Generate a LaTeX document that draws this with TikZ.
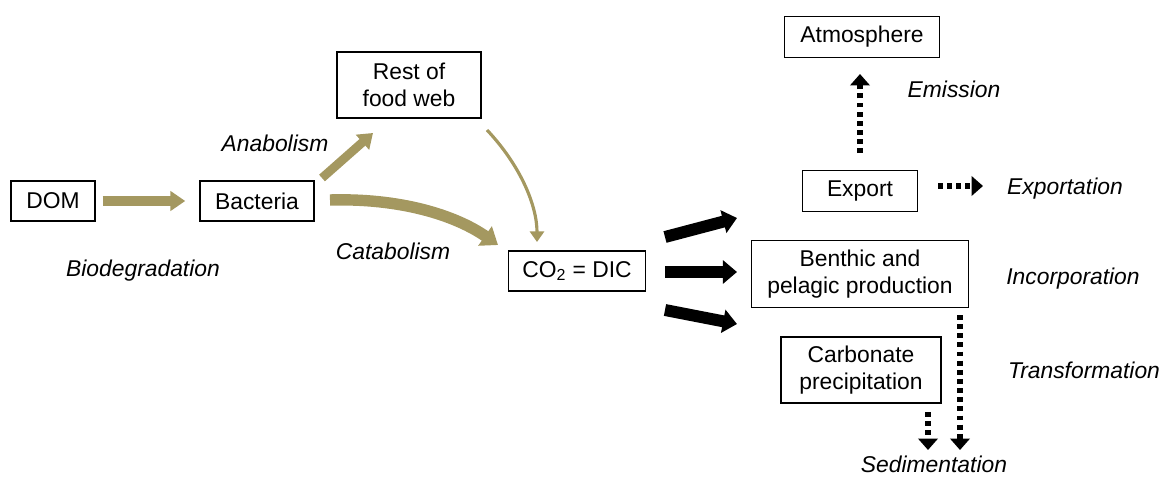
\documentclass[tikz,border=0pt]{standalone}
\usepackage{fontspec}
\setmainfont{Liberation Sans}
\usetikzlibrary{arrows.meta}
\definecolor{clay}{RGB}{164,152,96}
\begin{document}
\begin{tikzpicture}[x=0.02cm,y=-0.02cm,
  box/.style={draw,line width=0.8pt,align=center,inner sep=2pt,
              font=\fontsize{13}{15.4}\selectfont},
  lbl/.style={font=\fontsize{13}{15.4}\selectfont\itshape},
  clayarrow/.style={draw=clay,line width=#1},
  fatarrow/.style={draw=black,line width=6.8pt,-{Triangle[length=8pt,width=13pt]}},
  dotarrow/.style={draw=black,line width=3pt,dash pattern=on 2.8pt off 2.4pt,
                   -{Triangle[length=6.5pt,width=11pt]}}]
 \useasboundingbox (0,0) rectangle (1164,477);

 % the boxes
 \node[box,minimum width=1.68cm,minimum height=0.8cm] (dom) at (53,201) {DOM};
 \node[box,minimum width=2.28cm,minimum height=0.8cm] (bacteria) at (257,201) {Bacteria};
 \node[box,minimum width=2.88cm,minimum height=1.32cm] (restweb) at (409,85) {Rest of\\food web};
 \node[box,minimum width=2.74cm,minimum height=0.8cm] (co2) at (577,271) {CO\textsubscript{2} = DIC};
 \node[box,minimum width=3.1cm,minimum height=0.82cm] (atmo) at (862,37) {Atmosphere};
 \node[box,minimum width=2.3cm,minimum height=0.82cm] (export) at (860,191) {Export};
 \node[box,minimum width=4.34cm,minimum height=1.34cm] (benthic) at (860,274) {Benthic and\\pelagic production};
 \node[box,minimum width=3.2cm,minimum height=1.32cm] (carbonate) at (861,370) {Carbonate\\precipitation};

 % the process names
 \node[lbl] (anabolism) at (275,143) {Anabolism};
 \node[lbl] (biodeg) at (143,271) {Biodegradation};
 \node[lbl] (catabolism) at (393,251) {Catabolism};
 \node[lbl] (emission) at (954,89) {Emission};
 \node[lbl] (exportation) at (1065,189) {Exportation};
 \node[lbl] (incorporation) at (1073,279) {Incorporation};
 \node[lbl] (transformation) at (1084,370) {Transformation};
 \node[lbl] (sedimentation) at (934,464) {Sedimentation};

 % bacterial pathway
 \draw[clayarrow=5.7pt,-{Triangle[length=8.5pt,width=11pt]},shorten <=4pt,shorten >=8pt]
      (dom.east) -- (bacteria.west);
 \draw[clayarrow=5pt,-{Triangle[length=8pt,width=11pt]}]
      (322,178) coordinate (anastart) -- (373,133) coordinate (anaend);
 \draw[clayarrow=6.5pt,-{Triangle[length=9pt,width=13pt]}]
      (330,200) coordinate (catstart) .. controls (400,198) and (455,215) .. (498,245) coordinate (catend);
 \draw[clayarrow=1.8pt,-{Triangle[length=6pt,width=8pt]}]
      (487,130) coordinate (webstart) .. controls (520,165) and (537,205) .. (537,242) coordinate (webend);

 % from the DIC pool
 \foreach \i/\sy/\ey in {1/237/218, 2/272/272, 3/310/324} {
         \coordinate (s\i) at (665,\sy);
         \coordinate (e\i) at (737,\ey);
         \draw[fatarrow] (s\i) -- (e\i);
 }

 % dotted fluxes
 \draw[dotarrow,shorten <=9.5pt,shorten >=9pt] (export.north) -- (export.north |- atmo.south);
 \draw[dotarrow] (938,186) coordinate (expstart) -- (983,186) coordinate (expend);
 \draw[dotarrow] (960,315) coordinate (sedstartR) -- (960,450) coordinate (sedendR);
 \draw[dotarrow] (928,412) coordinate (sedstartL) -- (928,450) coordinate (sedendL);
\end{tikzpicture}
\end{document}
